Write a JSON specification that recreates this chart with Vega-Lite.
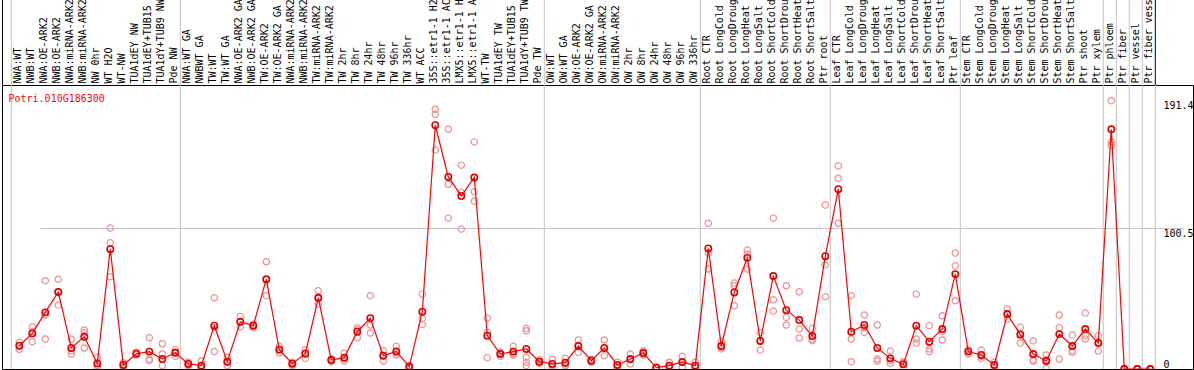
{
"$schema": "https://vega.github.io/schema/vega-lite/v6.json",
"autosize": {"type": "none"},
"padding": {"left": 2, "top": 85, "right": 1, "bottom": 1},
"width": 1191,
"height": 284,
"config": {
  "view": {"stroke": "#000000", "strokeWidth": 1},
  "font": "DejaVu Sans Mono",
  "axisY": {"orient": "right", "title": null, "domain": false, "ticks": false, "tickSize": 0,
    "labelPadding": -30, "labelAlign": "left", "labelFlush": false,
    "labelFont": "DejaVu Sans Mono", "labelFontSize": 10, "labelColor": "#000000",
    "grid": true, "gridColor": "#c4c4c4", "gridWidth": 1}
},
"title": {"text": "Potri.010G186300", "orient": "bottom", "anchor": "start", "frame": "group", "offset": -268, "dx": 6.5, "baseline": "alphabetic", "font": "DejaVu Sans Mono", "fontSize": 10, "fontWeight": "normal", "color": "#ff0000"},
"datasets": {
  "means": [
    {"s": "NWA:WT", "v": 16.6}, {"s": "NWB:WT", "v": 25.4}, {"s": "NWA:OE-ARK2", "v": 40.4}, {"s": "NWB:OE-ARK2", "v": 54.9},
    {"s": "NWA:miRNA-ARK2", "v": 15}, {"s": "NWB:miRNA-ARK2", "v": 23}, {"s": "NW 0hr", "v": 4}, {"s": "WT H2O", "v": 85.5},
    {"s": "WT-NW", "v": 2.9}, {"s": "TUA1dEY NW", "v": 10.9}, {"s": "TUA1dEY+TUB15 NW", "v": 12.4}, {"s": "TUA1dY+TUB9 NW", "v": 7.1},
    {"s": "Pde NW", "v": 11.6}, {"s": "NWA:WT GA", "v": 3.6}, {"s": "NWBWT GA", "v": 2.4}, {"s": "TW:WT", "v": 30.9},
    {"s": "TW:WT GA", "v": 5.2}, {"s": "NWA:OE-ARK2 GA", "v": 33.7}, {"s": "NWB:OE-ARK2 GA", "v": 30.9}, {"s": "TW:OE-ARK2", "v": 64.1},
    {"s": "TW:OE-ARK2 GA", "v": 13.8}, {"s": "NWA:miRNA-ARK2 GA", "v": 3.8}, {"s": "NWB:miRNA-ARK2 GA", "v": 10.9}, {"s": "TW:miRNA-ARK2", "v": 50.8},
    {"s": "TW:miRNA-ARK2 GA", "v": 6.4}, {"s": "TW 2hr", "v": 8.1}, {"s": "TW 8hr", "v": 26.6}, {"s": "TW 24hr", "v": 36.3},
    {"s": "TW 48hr", "v": 9.5}, {"s": "TW 96hr", "v": 12.6}, {"s": "TW 336hr", "v": 1.7}, {"s": "WT ACC", "v": 40.9},
    {"s": "35S::etr1-1 H2O", "v": 173.9}, {"s": "35S::etr1-1 ACC", "v": 137}, {"s": "LMX5::etr1-1 H2O", "v": 123.5}, {"s": "LMX5::etr1-1 ACC", "v": 136.6},
    {"s": "WT-TW", "v": 23.8}, {"s": "TUA1dEY TW", "v": 10.7}, {"s": "TUA1dEY+TUB15 TW", "v": 12.4}, {"s": "TUA1dY+TUB9 TW", "v": 14.3},
    {"s": "Pde TW", "v": 5.2}, {"s": "OW:WT", "v": 3.6}, {"s": "OW:WT GA", "v": 4.5}, {"s": "OW:OE-ARK2", "v": 16.4},
    {"s": "OW:OE-ARK2 GA", "v": 5.9}, {"s": "OW:miRNA-ARK2", "v": 15}, {"s": "OW:miRNA-ARK2 GA", "v": 2.9}, {"s": "OW 2hr", "v": 7.1},
    {"s": "OW 8hr", "v": 11.4}, {"s": "OW 24hr", "v": 1}, {"s": "OW 48hr", "v": 2.4}, {"s": "OW 96hr", "v": 5},
    {"s": "OW 336hr", "v": 2.4}, {"s": "Root CTR", "v": 86}, {"s": "Root LongCold", "v": 16.4}, {"s": "Root LongDrought", "v": 54.6},
    {"s": "Root LongHeat", "v": 79.3}, {"s": "Root LongSalt", "v": 20}, {"s": "Root ShortCold", "v": 66.3}, {"s": "Root ShortDrought", "v": 42},
    {"s": "Root ShortHeat", "v": 34.9}, {"s": "Root ShortSalt", "v": 23.5}, {"s": "Ptr root", "v": 80.5}, {"s": "Leaf CTR", "v": 128.3},
    {"s": "Leaf LongCold", "v": 26.6}, {"s": "Leaf LongDrought", "v": 31.4}, {"s": "Leaf LongHeat", "v": 15}, {"s": "Leaf LongSalt", "v": 7.6},
    {"s": "Leaf ShortCold", "v": 3.3}, {"s": "Leaf ShortDrought", "v": 30.9}, {"s": "Leaf ShortHeat", "v": 19.5}, {"s": "Leaf ShortSalt", "v": 28.5},
    {"s": "Ptr leaf", "v": 67.7}, {"s": "Stem CTR", "v": 12.4}, {"s": "Stem LongCold", "v": 10}, {"s": "Stem LongDrought", "v": 2.9},
    {"s": "Stem LongHeat", "v": 39.2}, {"s": "Stem LongSalt", "v": 24.5}, {"s": "Stem ShortCold", "v": 10.7}, {"s": "Stem ShortDrought", "v": 5.7},
    {"s": "Stem ShortHeat", "v": 24.9}, {"s": "Stem ShortSalt", "v": 16.4}, {"s": "Ptr shoot", "v": 28.5}, {"s": "Ptr xylem", "v": 18.5},
    {"s": "Ptr phloem", "v": 171}, {"s": "Ptr fiber", "v": 0}, {"s": "Ptr vessel", "v": 0}, {"s": "Ptr fiber vessel", "v": 0}
  ],
  "reps": [
    {"s": "NWA:WT", "v": 19}, {"s": "NWA:WT", "v": 14}, {"s": "NWA:WT", "v": 16.8},
    {"s": "NWB:WT", "v": 30}, {"s": "NWB:WT", "v": 19.5}, {"s": "NWB:WT", "v": 26.7},
    {"s": "NWA:OE-ARK2", "v": 63}, {"s": "NWA:OE-ARK2", "v": 38.5}, {"s": "NWA:OE-ARK2", "v": 21.4},
    {"s": "NWB:OE-ARK2", "v": 64}, {"s": "NWB:OE-ARK2", "v": 45.6}, {"s": "NWB:OE-ARK2", "v": 55},
    {"s": "NWA:miRNA-ARK2", "v": 21.4}, {"s": "NWA:miRNA-ARK2", "v": 10.7}, {"s": "NWA:miRNA-ARK2", "v": 13},
    {"s": "NWB:miRNA-ARK2", "v": 27.8}, {"s": "NWB:miRNA-ARK2", "v": 26}, {"s": "NWB:miRNA-ARK2", "v": 15},
    {"s": "NW 0hr", "v": 8.3}, {"s": "NW 0hr", "v": 1.2}, {"s": "NW 0hr", "v": 2.5},
    {"s": "WT H2O", "v": 100.5}, {"s": "WT H2O", "v": 90}, {"s": "WT H2O", "v": 65.8},
    {"s": "WT-NW", "v": 2.9}, {"s": "WT-NW", "v": 1.2}, {"s": "WT-NW", "v": 4.5},
    {"s": "TUA1dEY NW", "v": 12}, {"s": "TUA1dEY NW", "v": 10}, {"s": "TUA1dEY NW", "v": 10.7},
    {"s": "TUA1dEY+TUB15 NW", "v": 22.3}, {"s": "TUA1dEY+TUB15 NW", "v": 7}, {"s": "TUA1dEY+TUB15 NW", "v": 6},
    {"s": "TUA1dY+TUB9 NW", "v": 18}, {"s": "TUA1dY+TUB9 NW", "v": 10.7}, {"s": "TUA1dY+TUB9 NW", "v": 2.4},
    {"s": "Pde NW", "v": 13.8}, {"s": "Pde NW", "v": 9}, {"s": "Pde NW", "v": 12},
    {"s": "NWA:WT GA", "v": 4.8}, {"s": "NWA:WT GA", "v": 2.4}, {"s": "NWA:WT GA", "v": 3.6},
    {"s": "NWBWT GA", "v": 5.7}, {"s": "NWBWT GA", "v": 1}, {"s": "NWBWT GA", "v": 0.5},
    {"s": "TW:WT", "v": 50.8}, {"s": "TW:WT", "v": 12.4}, {"s": "TW:WT", "v": 29.5},
    {"s": "TW:WT GA", "v": 8.3}, {"s": "TW:WT GA", "v": 2.4}, {"s": "TW:WT GA", "v": 5},
    {"s": "NWA:OE-ARK2 GA", "v": 37.5}, {"s": "NWA:OE-ARK2 GA", "v": 30}, {"s": "NWA:OE-ARK2 GA", "v": 33.6},
    {"s": "NWB:OE-ARK2 GA", "v": 32}, {"s": "NWB:OE-ARK2 GA", "v": 29.5}, {"s": "NWB:OE-ARK2 GA", "v": 31.2},
    {"s": "TW:OE-ARK2", "v": 76.5}, {"s": "TW:OE-ARK2", "v": 52.3}, {"s": "TW:OE-ARK2", "v": 63.5},
    {"s": "TW:OE-ARK2 GA", "v": 16.2}, {"s": "TW:OE-ARK2 GA", "v": 11.4}, {"s": "TW:OE-ARK2 GA", "v": 13.8},
    {"s": "NWA:miRNA-ARK2 GA", "v": 4.8}, {"s": "NWA:miRNA-ARK2 GA", "v": 2.4}, {"s": "NWA:miRNA-ARK2 GA", "v": 4},
    {"s": "NWB:miRNA-ARK2 GA", "v": 13.8}, {"s": "NWB:miRNA-ARK2 GA", "v": 7.6}, {"s": "NWB:miRNA-ARK2 GA", "v": 11.3},
    {"s": "TW:miRNA-ARK2", "v": 55.8}, {"s": "TW:miRNA-ARK2", "v": 46.3}, {"s": "TW:miRNA-ARK2", "v": 50.3},
    {"s": "TW:miRNA-ARK2 GA", "v": 7.2}, {"s": "TW:miRNA-ARK2 GA", "v": 5.2}, {"s": "TW:miRNA-ARK2 GA", "v": 6.8},
    {"s": "TW 2hr", "v": 11.2}, {"s": "TW 2hr", "v": 5.7}, {"s": "TW 2hr", "v": 7.4},
    {"s": "TW 8hr", "v": 29.5}, {"s": "TW 8hr", "v": 22.3}, {"s": "TW 8hr", "v": 28},
    {"s": "TW 24hr", "v": 52.3}, {"s": "TW 24hr", "v": 31.4}, {"s": "TW 24hr", "v": 25.7},
    {"s": "TW 48hr", "v": 13}, {"s": "TW 48hr", "v": 5.7}, {"s": "TW 48hr", "v": 9.8},
    {"s": "TW 96hr", "v": 16.2}, {"s": "TW 96hr", "v": 10}, {"s": "TW 96hr", "v": 11.6},
    {"s": "TW 336hr", "v": 1.7}, {"s": "TW 336hr", "v": 0.8}, {"s": "TW 336hr", "v": 2.6},
    {"s": "WT ACC", "v": 53.4}, {"s": "WT ACC", "v": 36.1}, {"s": "WT ACC", "v": 31.8},
    {"s": "35S::etr1-1 H2O", "v": 185.3}, {"s": "35S::etr1-1 H2O", "v": 181.7}, {"s": "35S::etr1-1 H2O", "v": 156.3},
    {"s": "35S::etr1-1 ACC", "v": 171}, {"s": "35S::etr1-1 ACC", "v": 131.8}, {"s": "35S::etr1-1 ACC", "v": 107.6},
    {"s": "LMX5::etr1-1 H2O", "v": 145.4}, {"s": "LMX5::etr1-1 H2O", "v": 125.9}, {"s": "LMX5::etr1-1 H2O", "v": 99.8},
    {"s": "LMX5::etr1-1 ACC", "v": 162}, {"s": "LMX5::etr1-1 ACC", "v": 126.4}, {"s": "LMX5::etr1-1 ACC", "v": 119.7},
    {"s": "WT-TW", "v": 36.3}, {"s": "WT-TW", "v": 26.1}, {"s": "WT-TW", "v": 8.1},
    {"s": "TUA1dEY TW", "v": 11.9}, {"s": "TUA1dEY TW", "v": 9}, {"s": "TUA1dEY TW", "v": 11.2},
    {"s": "TUA1dEY+TUB15 TW", "v": 16.2}, {"s": "TUA1dEY+TUB15 TW", "v": 10}, {"s": "TUA1dEY+TUB15 TW", "v": 11},
    {"s": "TUA1dY+TUB9 TW", "v": 29}, {"s": "TUA1dY+TUB9 TW", "v": 27.3}, {"s": "TUA1dY+TUB9 TW", "v": 8.3}, {"s": "TUA1dY+TUB9 TW", "v": 4.8}, {"s": "TUA1dY+TUB9 TW", "v": 2.4},
    {"s": "Pde TW", "v": 5.2}, {"s": "Pde TW", "v": 3.8}, {"s": "Pde TW", "v": 6.6},
    {"s": "OW:WT", "v": 7}, {"s": "OW:WT", "v": 1.2}, {"s": "OW:WT", "v": 2.6},
    {"s": "OW:WT GA", "v": 7.6}, {"s": "OW:WT GA", "v": 2.4}, {"s": "OW:WT GA", "v": 3.5},
    {"s": "OW:OE-ARK2", "v": 20.7}, {"s": "OW:OE-ARK2", "v": 11.9}, {"s": "OW:OE-ARK2", "v": 16.6},
    {"s": "OW:OE-ARK2 GA", "v": 7}, {"s": "OW:OE-ARK2 GA", "v": 4.8}, {"s": "OW:OE-ARK2 GA", "v": 5.9},
    {"s": "OW:miRNA-ARK2", "v": 20.7}, {"s": "OW:miRNA-ARK2", "v": 9.5}, {"s": "OW:miRNA-ARK2", "v": 14.8},
    {"s": "OW:miRNA-ARK2 GA", "v": 4.8}, {"s": "OW:miRNA-ARK2 GA", "v": 1.2}, {"s": "OW:miRNA-ARK2 GA", "v": 2.7},
    {"s": "OW 2hr", "v": 10.7}, {"s": "OW 2hr", "v": 3.6}, {"s": "OW 2hr", "v": 7},
    {"s": "OW 8hr", "v": 13}, {"s": "OW 8hr", "v": 10}, {"s": "OW 8hr", "v": 11.2},
    {"s": "OW 24hr", "v": 1}, {"s": "OW 24hr", "v": 0.5}, {"s": "OW 24hr", "v": 1.5},
    {"s": "OW 48hr", "v": 4.8}, {"s": "OW 48hr", "v": 1}, {"s": "OW 48hr", "v": 1.4},
    {"s": "OW 96hr", "v": 9}, {"s": "OW 96hr", "v": 1.2}, {"s": "OW 96hr", "v": 4.8},
    {"s": "OW 336hr", "v": 4.8}, {"s": "OW 336hr", "v": 1.2}, {"s": "OW 336hr", "v": 1.2},
    {"s": "Root CTR", "v": 104}, {"s": "Root CTR", "v": 71.3}, {"s": "Root CTR", "v": 82.7},
    {"s": "Root LongCold", "v": 19.5}, {"s": "Root LongCold", "v": 14.3}, {"s": "Root LongCold", "v": 15.4},
    {"s": "Root LongDrought", "v": 61.3}, {"s": "Root LongDrought", "v": 59.4}, {"s": "Root LongDrought", "v": 45.1},
    {"s": "Root LongHeat", "v": 84.8}, {"s": "Root LongHeat", "v": 71.3}, {"s": "Root LongHeat", "v": 81.8},
    {"s": "Root LongSalt", "v": 26.1}, {"s": "Root LongSalt", "v": 13.5}, {"s": "Root LongSalt", "v": 20.4},
    {"s": "Root ShortCold", "v": 107.6}, {"s": "Root ShortCold", "v": 49.4}, {"s": "Root ShortCold", "v": 41.3},
    {"s": "Root ShortDrought", "v": 59.4}, {"s": "Root ShortDrought", "v": 36.8}, {"s": "Root ShortDrought", "v": 31.4},
    {"s": "Root ShortHeat", "v": 55.1}, {"s": "Root ShortHeat", "v": 28.5}, {"s": "Root ShortHeat", "v": 22.1},
    {"s": "Root ShortSalt", "v": 29}, {"s": "Root ShortSalt", "v": 20.2}, {"s": "Root ShortSalt", "v": 21.3},
    {"s": "Ptr root", "v": 116.9}, {"s": "Ptr root", "v": 74.3}, {"s": "Ptr root", "v": 51.5},
    {"s": "Leaf CTR", "v": 144.9}, {"s": "Leaf CTR", "v": 136.1}, {"s": "Leaf CTR", "v": 104},
    {"s": "Leaf LongCold", "v": 52.3}, {"s": "Leaf LongCold", "v": 21.4}, {"s": "Leaf LongCold", "v": 5.2},
    {"s": "Leaf LongDrought", "v": 38.5}, {"s": "Leaf LongDrought", "v": 26.1}, {"s": "Leaf LongDrought", "v": 29.6},
    {"s": "Leaf LongHeat", "v": 31.4}, {"s": "Leaf LongHeat", "v": 7.1}, {"s": "Leaf LongHeat", "v": 5.7},
    {"s": "Leaf LongSalt", "v": 12.8}, {"s": "Leaf LongSalt", "v": 4}, {"s": "Leaf LongSalt", "v": 6},
    {"s": "Leaf ShortCold", "v": 5.2}, {"s": "Leaf ShortCold", "v": 0.5}, {"s": "Leaf ShortCold", "v": 4.2},
    {"s": "Leaf ShortDrought", "v": 53.4}, {"s": "Leaf ShortDrought", "v": 21.4}, {"s": "Leaf ShortDrought", "v": 18.5},
    {"s": "Leaf ShortHeat", "v": 30.9}, {"s": "Leaf ShortHeat", "v": 14.3}, {"s": "Leaf ShortHeat", "v": 12.4},
    {"s": "Leaf ShortSalt", "v": 38}, {"s": "Leaf ShortSalt", "v": 20.7}, {"s": "Leaf ShortSalt", "v": 26.8},
    {"s": "Ptr leaf", "v": 82.7}, {"s": "Ptr leaf", "v": 73.6}, {"s": "Ptr leaf", "v": 48.7},
    {"s": "Stem CTR", "v": 13.8}, {"s": "Stem CTR", "v": 10.7}, {"s": "Stem CTR", "v": 12.7},
    {"s": "Stem LongCold", "v": 13.5}, {"s": "Stem LongCold", "v": 7.6}, {"s": "Stem LongCold", "v": 8.9},
    {"s": "Stem LongDrought", "v": 4.8}, {"s": "Stem LongDrought", "v": 1.5}, {"s": "Stem LongDrought", "v": 2.4},
    {"s": "Stem LongHeat", "v": 42.8}, {"s": "Stem LongHeat", "v": 35.6}, {"s": "Stem LongHeat", "v": 39.2},
    {"s": "Stem LongSalt", "v": 29.7}, {"s": "Stem LongSalt", "v": 18.5}, {"s": "Stem LongSalt", "v": 25.3},
    {"s": "Stem ShortCold", "v": 20}, {"s": "Stem ShortCold", "v": 5.7}, {"s": "Stem ShortCold", "v": 6.4},
    {"s": "Stem ShortDrought", "v": 10}, {"s": "Stem ShortDrought", "v": 0.5}, {"s": "Stem ShortDrought", "v": 6.6},
    {"s": "Stem ShortHeat", "v": 38.5}, {"s": "Stem ShortHeat", "v": 29.5}, {"s": "Stem ShortHeat", "v": 7.1},
    {"s": "Stem ShortSalt", "v": 24.2}, {"s": "Stem ShortSalt", "v": 11.9}, {"s": "Stem ShortSalt", "v": 13.1},
    {"s": "Ptr shoot", "v": 39.9}, {"s": "Ptr shoot", "v": 23.8}, {"s": "Ptr shoot", "v": 21.4},
    {"s": "Ptr xylem", "v": 23.8}, {"s": "Ptr xylem", "v": 12.8}, {"s": "Ptr xylem", "v": 18.9},
    {"s": "Ptr phloem", "v": 191.4}, {"s": "Ptr phloem", "v": 159.6}, {"s": "Ptr phloem", "v": 162},
    {"s": "Ptr fiber", "v": 0}, {"s": "Ptr fiber", "v": 0}, {"s": "Ptr fiber", "v": 0},
    {"s": "Ptr vessel", "v": 0}, {"s": "Ptr vessel", "v": 0}, {"s": "Ptr vessel", "v": 0},
    {"s": "Ptr fiber vessel", "v": 0}, {"s": "Ptr fiber vessel", "v": 0}, {"s": "Ptr fiber vessel", "v": 0}
  ],
  "groups": [
    {"s": "NWA:WT"}, {"s": "NWA:WT GA"}, {"s": "OW:WT"}, {"s": "Root CTR"}, {"s": "Leaf CTR"},
    {"s": "Stem CTR"}, {"s": "Ptr phloem"}, {"s": "Ptr fiber"}, {"s": "Ptr vessel"}, {"s": "Ptr fiber vessel"}
  ],
  "edgeLeft": [{"s": "NWA:WT"}],
  "edgeRight": [{"s": "Ptr fiber vessel"}]
},
"encoding": {
  "x": {"field": "s", "type": "nominal",
    "scale": {"type": "band", "range": [9.3, 1153.3], "paddingInner": 0, "paddingOuter": 0,
      "domain": ["NWA:WT","NWB:WT","NWA:OE-ARK2","NWB:OE-ARK2","NWA:miRNA-ARK2","NWB:miRNA-ARK2","NW 0hr","WT H2O","WT-NW","TUA1dEY NW","TUA1dEY+TUB15 NW","TUA1dY+TUB9 NW","Pde NW","NWA:WT GA","NWBWT GA","TW:WT","TW:WT GA","NWA:OE-ARK2 GA","NWB:OE-ARK2 GA","TW:OE-ARK2","TW:OE-ARK2 GA","NWA:miRNA-ARK2 GA","NWB:miRNA-ARK2 GA","TW:miRNA-ARK2","TW:miRNA-ARK2 GA","TW 2hr","TW 8hr","TW 24hr","TW 48hr","TW 96hr","TW 336hr","WT ACC","35S::etr1-1 H2O","35S::etr1-1 ACC","LMX5::etr1-1 H2O","LMX5::etr1-1 ACC","WT-TW","TUA1dEY TW","TUA1dEY+TUB15 TW","TUA1dY+TUB9 TW","Pde TW","OW:WT","OW:WT GA","OW:OE-ARK2","OW:OE-ARK2 GA","OW:miRNA-ARK2","OW:miRNA-ARK2 GA","OW 2hr","OW 8hr","OW 24hr","OW 48hr","OW 96hr","OW 336hr","Root CTR","Root LongCold","Root LongDrought","Root LongHeat","Root LongSalt","Root ShortCold","Root ShortDrought","Root ShortHeat","Root ShortSalt","Ptr root","Leaf CTR","Leaf LongCold","Leaf LongDrought","Leaf LongHeat","Leaf LongSalt","Leaf ShortCold","Leaf ShortDrought","Leaf ShortHeat","Leaf ShortSalt","Ptr leaf","Stem CTR","Stem LongCold","Stem LongDrought","Stem LongHeat","Stem LongSalt","Stem ShortCold","Stem ShortDrought","Stem ShortHeat","Stem ShortSalt","Ptr shoot","Ptr xylem","Ptr phloem","Ptr fiber","Ptr vessel","Ptr fiber vessel"]},
    "axis": {"orient": "top", "title": null, "labelAngle": 270, "labelAlign": "left", "labelBaseline": "middle", "labelPadding": 2, "ticks": false, "tickSize": 0, "domain": false, "grid": false, "labelOverlap": false, "labelLimit": 400, "labelFont": "DejaVu Sans Mono", "labelFontSize": 10, "labelColor": "#000000"}
  }
},
"layer": [
  {
    "data": {"name": "groups"},
    "mark": {"type": "rule", "color": "#c4c4c4", "strokeWidth": 1, "clip": false},
    "encoding": {
      "x": {"field": "s", "type": "nominal", "bandPosition": 0},
      "y": {"datum": 0, "type": "quantitative", "scale": {"domain": [0, 202.6], "nice": false, "zero": true},
        "axis": {"values": [0, 100.5, 191.4], "labelExpr": "datum.value == 0 ? '0' : format(datum.value, '.1f')",
          "labelBaseline": {"condition": {"test": "datum.value == 0", "value": "bottom"}, "value": "top"},
          "gridOpacity": {"condition": {"test": "datum.value == 100.5", "value": 1}, "value": 0}}},
      "y2": {"datum": 270}
    }
  },
  {
    "data": {"name": "edgeRight"},
    "mark": {"type": "rule", "color": "#c4c4c4", "strokeWidth": 1, "clip": false},
    "encoding": {
      "x": {"field": "s", "type": "nominal", "bandPosition": 1},
      "y": {"datum": 0, "type": "quantitative", "scale": {"domain": [0, 202.6], "nice": false, "zero": true},
        "axis": {"values": [0, 100.5, 191.4], "labelExpr": "datum.value == 0 ? '0' : format(datum.value, '.1f')",
          "labelBaseline": {"condition": {"test": "datum.value == 0", "value": "bottom"}, "value": "top"},
          "gridOpacity": {"condition": {"test": "datum.value == 100.5", "value": 1}, "value": 0}}},
      "y2": {"datum": 202.6}
    }
  },
  {
    "data": {"name": "edgeRight"},
    "mark": {"type": "rule", "color": "#000000", "strokeWidth": 1, "clip": false},
    "encoding": {
      "x": {"field": "s", "type": "nominal", "bandPosition": 1},
      "y": {"datum": 202.6, "type": "quantitative", "scale": {"domain": [0, 202.6], "nice": false, "zero": true},
        "axis": {"values": [0, 100.5, 191.4], "labelExpr": "datum.value == 0 ? '0' : format(datum.value, '.1f')",
          "labelBaseline": {"condition": {"test": "datum.value == 0", "value": "bottom"}, "value": "top"},
          "gridOpacity": {"condition": {"test": "datum.value == 100.5", "value": 1}, "value": 0}}},
      "y2": {"datum": 270}
    }
  },
  {
    "data": {"name": "edgeLeft"},
    "mark": {"type": "rule", "color": "#000000", "strokeWidth": 1, "clip": false},
    "encoding": {
      "x": {"field": "s", "type": "nominal", "bandPosition": -0.677},
      "y": {"datum": 202.6, "type": "quantitative", "scale": {"domain": [0, 202.6], "nice": false, "zero": true},
        "axis": {"values": [0, 100.5, 191.4], "labelExpr": "datum.value == 0 ? '0' : format(datum.value, '.1f')",
          "labelBaseline": {"condition": {"test": "datum.value == 0", "value": "bottom"}, "value": "top"},
          "gridOpacity": {"condition": {"test": "datum.value == 100.5", "value": 1}, "value": 0}}},
      "y2": {"datum": 270}
    }
  },
  {
    "data": {"name": "reps"},
    "mark": {"type": "point", "shape": "circle", "filled": false, "stroke": "#ee9090", "strokeWidth": 1.2, "size": 40, "clip": true, "opacity": 1},
    "encoding": {
      "x": {"field": "s", "type": "nominal", "bandPosition": 0.615},
      "y": {"field": "v", "type": "quantitative", "scale": {"domain": [0, 202.6], "nice": false, "zero": true},
        "axis": {"values": [0, 100.5, 191.4], "labelExpr": "datum.value == 0 ? '0' : format(datum.value, '.1f')",
          "labelBaseline": {"condition": {"test": "datum.value == 0", "value": "bottom"}, "value": "top"},
          "gridOpacity": {"condition": {"test": "datum.value == 100.5", "value": 1}, "value": 0}}}
    }
  },
  {
    "data": {"name": "means"},
    "mark": {"type": "line", "color": "#ff0000", "strokeWidth": 1.2, "clip": true},
    "encoding": {
      "x": {"field": "s", "type": "nominal", "bandPosition": 0.615},
      "y": {"field": "v", "type": "quantitative", "scale": {"domain": [0, 202.6], "nice": false, "zero": true},
        "axis": {"values": [0, 100.5, 191.4], "labelExpr": "datum.value == 0 ? '0' : format(datum.value, '.1f')",
          "labelBaseline": {"condition": {"test": "datum.value == 0", "value": "bottom"}, "value": "top"},
          "gridOpacity": {"condition": {"test": "datum.value == 100.5", "value": 1}, "value": 0}}}
    }
  },
  {
    "data": {"name": "means"},
    "mark": {"type": "point", "shape": "circle", "filled": false, "stroke": "#e00000", "strokeWidth": 1.6, "size": 40, "clip": true, "opacity": 1},
    "encoding": {
      "x": {"field": "s", "type": "nominal", "bandPosition": 0.615},
      "y": {"field": "v", "type": "quantitative", "scale": {"domain": [0, 202.6], "nice": false, "zero": true},
        "axis": {"values": [0, 100.5, 191.4], "labelExpr": "datum.value == 0 ? '0' : format(datum.value, '.1f')",
          "labelBaseline": {"condition": {"test": "datum.value == 0", "value": "bottom"}, "value": "top"},
          "gridOpacity": {"condition": {"test": "datum.value == 100.5", "value": 1}, "value": 0}}}
    }
  }
]
}
